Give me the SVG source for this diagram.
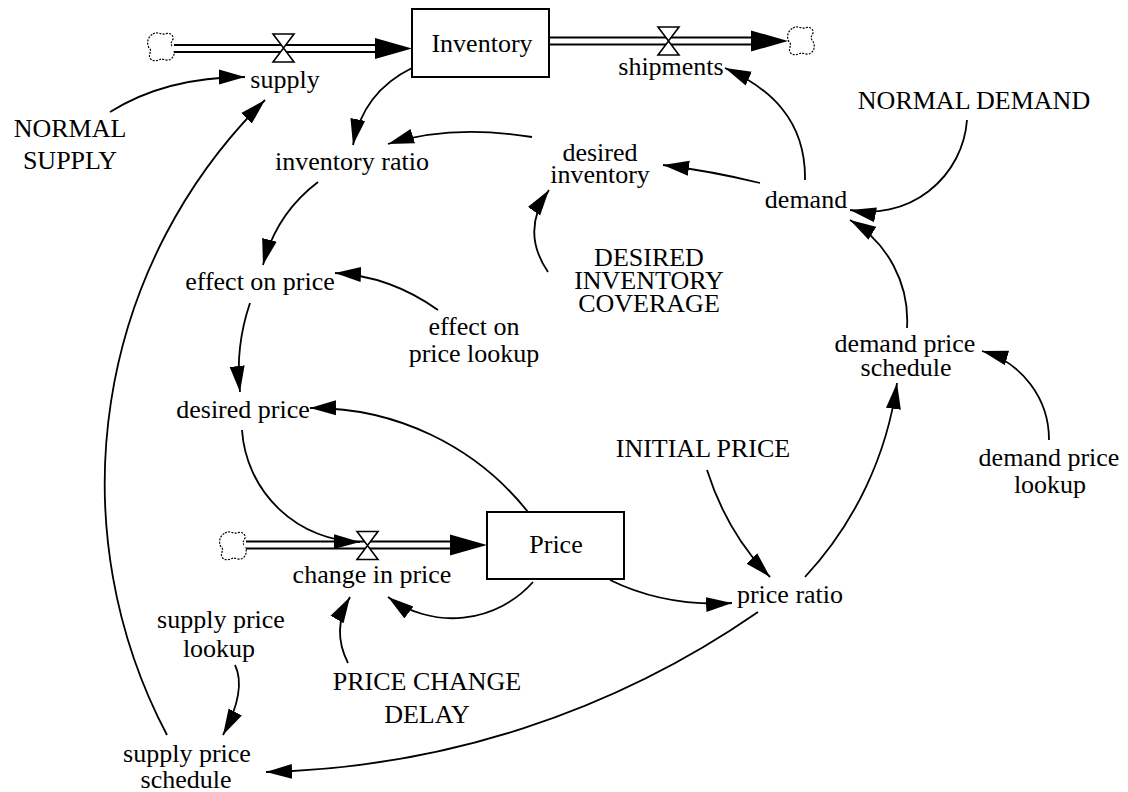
<svg xmlns="http://www.w3.org/2000/svg" width="1128" height="792" viewBox="0 0 1128 792">
<style>
text{font-family:"Liberation Serif","Times New Roman",serif;font-size:26px;fill:#000;text-anchor:middle}
.conn path{fill:none;stroke:#000;stroke-width:1.8;marker-end:url(#ah)}
.box{fill:#fff;stroke:#000;stroke-width:2}
.pipeo{stroke:#000;stroke-width:9;fill:none}
.pipei{stroke:#fff;stroke-width:5;fill:none}
.cloud{fill:#fff;stroke:#000;stroke-width:1.2;stroke-dasharray:2 1.3}
.valve{fill:#fff;stroke:#000;stroke-width:1.6;stroke-linejoin:miter}
</style>
<defs>
<marker id="ah" markerUnits="userSpaceOnUse" markerWidth="27" markerHeight="17" viewBox="0 0 27 17" refX="26" refY="8.5" orient="auto"><path d="M0,1 L26,8.5 L0,16 Z" fill="#000"/></marker>
<path id="cloud" class="cloud" d="M-8,-13 C-4,-16 1,-12 4,-13 C8,-15 13,-12 12,-8 C11,-5 9,-4 11,-1 C14,3 14,8 11,11 C8,15 3,12 0,12 C-4,14 -9,15 -11,11 C-13,8 -9,4 -11,2 C-15,-2 -14,-10 -8,-13 Z"/>
<path id="valve" class="valve" d="M-10.5,-14 L10.5,-14 L0,0 Z M-10.5,14 L10.5,14 L0,0 Z"/>
<path id="pipehead" d="M-37,-10.5 L0,0 L-37,10.5 Z" fill="#000"/>
</defs>

<g id="flow-supply">
<use href="#cloud" x="161" y="47"/>
<line class="pipeo" x1="174" y1="48.5" x2="378" y2="48.5"/>
<line class="pipei" x1="172" y1="48.5" x2="378" y2="48.5"/>
<use href="#pipehead" x="412" y="48.5"/>
<use href="#valve" x="283.5" y="48"/>
<text x="285" y="88">supply</text>
</g>

<g id="flow-shipments">
<line class="pipeo" x1="549" y1="41" x2="755" y2="41"/>
<line class="pipei" x1="549" y1="41" x2="755" y2="41"/>
<use href="#pipehead" x="788" y="41"/>
<use href="#valve" x="668.5" y="41"/>
<use href="#cloud" x="801" y="41"/>
<text x="671" y="75">shipments</text>
</g>

<g id="flow-change-in-price">
<use href="#cloud" x="233" y="546"/>
<line class="pipeo" x1="246" y1="545" x2="454" y2="545"/>
<line class="pipei" x1="244" y1="545" x2="454" y2="545"/>
<use href="#pipehead" x="487" y="545"/>
<use href="#valve" x="367.5" y="545.5"/>
<text x="372" y="583">change in price</text>
</g>

<g id="Inventory">
<rect class="box" x="412" y="9" width="137" height="68"/>
<text x="482" y="52">Inventory</text>
</g>
<g id="Price">
<rect class="box" x="487" y="512" width="137" height="67"/>
<text x="556" y="553">Price</text>
</g>

<g id="NORMAL_SUPPLY"><text x="70" y="137">NORMAL</text><text x="70" y="169">SUPPLY</text></g>
<g id="inventory_ratio"><text x="352" y="170">inventory ratio</text></g>
<g id="desired_inventory"><text x="600" y="161">desired</text><text x="600" y="183">inventory</text></g>
<g id="demand"><text x="806" y="208">demand</text></g>
<g id="NORMAL_DEMAND"><text x="974" y="109">NORMAL DEMAND</text></g>
<g id="effect_on_price"><text x="260" y="290">effect on price</text></g>
<g id="effect_on_price_lookup"><text x="474" y="335">effect on</text><text x="474" y="362">price lookup</text></g>
<g id="DESIRED_INVENTORY_COVERAGE"><text x="649" y="266">DESIRED</text><text x="649" y="289">INVENTORY</text><text x="649" y="312">COVERAGE</text></g>
<g id="demand_price_schedule"><text x="905" y="352">demand price</text><text x="906" y="376">schedule</text></g>
<g id="demand_price_lookup"><text x="1049" y="466">demand price</text><text x="1050" y="493">lookup</text></g>
<g id="desired_price"><text x="243" y="418">desired price</text></g>
<g id="INITIAL_PRICE"><text x="703" y="457">INITIAL PRICE</text></g>
<g id="price_ratio"><text x="790" y="603">price ratio</text></g>
<g id="supply_price_lookup"><text x="221" y="628">supply price</text><text x="219" y="657">lookup</text></g>
<g id="PRICE_CHANGE_DELAY"><text x="427" y="690">PRICE CHANGE</text><text x="427" y="723">DELAY</text></g>
<g id="supply_price_schedule"><text x="187" y="762">supply price</text><text x="186" y="788">schedule</text></g>

<g id="connectors" class="conn">
<path d="M110,112 Q166,77 245,77"/>
<path d="M167,735 A539,539 0 0 1 265,100"/>
<path d="M412,68 Q363,92 353,145"/>
<path d="M532,137 Q451,124 388,144"/>
<path d="M760,183 Q711,171 663,165"/>
<path d="M805,180 C806,120 770,88 725,68"/>
<path d="M967,120 A99,99 0 0 1 850,210"/>
<path d="M907,328 A117,117 0 0 0 850,220"/>
<path d="M1049,440 A92,92 0 0 0 982,351"/>
<path d="M805,577 A357,357 0 0 0 897,383"/>
<path d="M707,470 Q727,533 770,577"/>
<path d="M610,580 Q665,607 732,603"/>
<path d="M533,582 A108,108 0 0 1 388,597"/>
<path d="M348,663 Q331,630 350,597"/>
<path d="M235,665 Q247,690 223,735"/>
<path d="M758,612 A900,900 0 0 1 266,772"/>
<path d="M242,430 A120,120 0 0 0 360,542"/>
<path d="M528,512 A275,275 0 0 0 310,408"/>
<path d="M250,303 Q235,347 240,392"/>
<path d="M318,182 Q276,214 263,265"/>
<path d="M438,310 Q390,276 335,273"/>
<path d="M548,272 Q520,231 549,190"/>
</g>
</svg>
